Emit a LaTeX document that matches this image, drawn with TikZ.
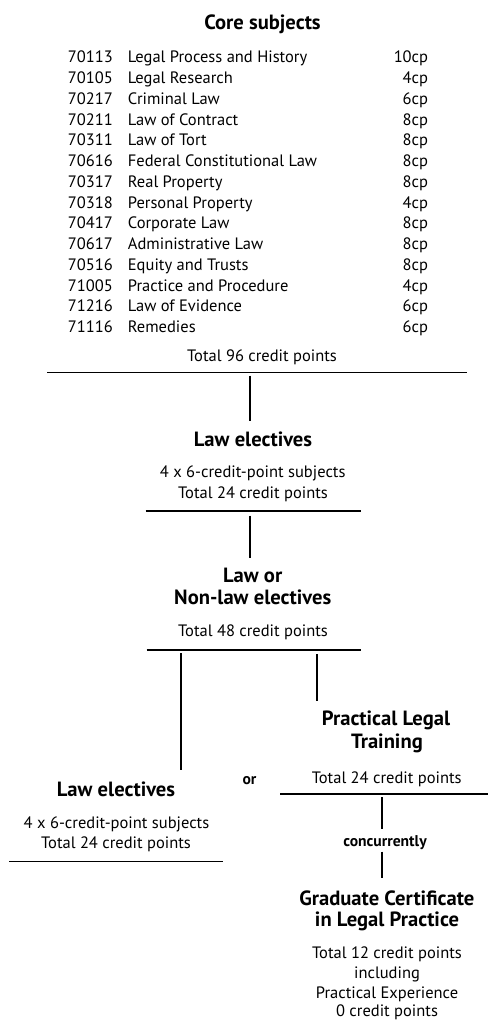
\documentclass[tikz,border=0pt]{standalone}
\usepackage{fontspec}
\setmainfont{PT Sans}
\begin{document}
\begin{tikzpicture}[x=1pt,y=-1pt,
  txt/.style={inner sep=0pt,anchor=base,font=\fontsize{16.5}{18}\selectfont},
  hd/.style={inner sep=0pt,anchor=base,font=\fontsize{20.6}{22}\selectfont\bfseries},
  small/.style={inner sep=0pt,anchor=base,font=\fontsize{15.6}{16}\selectfont\bfseries},
  code/.style={txt,anchor=base west},
  cp/.style={txt,anchor=base east},
  rule/.style={line width=1.4pt},
  link/.style={line width=1.8pt}]
\useasboundingbox (0,0) rectangle (488,1027);

% ---- core subjects ----
\node[hd] (core) at (262.5,29.3) {Core subjects};
\foreach \c/\n/\p [count=\i from 0] in {
  70113/Legal Process and History/10cp,
  70105/Legal Research/4cp,
  70217/Criminal Law/6cp,
  70211/Law of Contract/8cp,
  70311/Law of Tort/8cp,
  70616/Federal Constitutional Law/8cp,
  70317/Real Property/8cp,
  70318/Personal Property/4cp,
  70417/Corporate Law/8cp,
  70617/Administrative Law/8cp,
  70516/Equity and Trusts/8cp,
  71005/Practice and Procedure/4cp,
  71216/Law of Evidence/6cp,
  71116/Remedies/6cp}{
  \pgfmathsetmacro{\yy}{62.7+20.77*\i}
  \node[code] (c\i) at (67.7,\yy) {\c};
  \node[code] (n\i) at (127.7,\yy) {\n};
  \node[cp] (p\i) at (428.3,\yy) {\p};
}
\node[txt] (tot96) at (262,361) {Total 96 credit points};
\coordinate (r1a) at (47,372.3);
\coordinate (r1b) at (467,372.3);
\draw[rule] (r1a) -- (r1b);

% ---- law electives ----
\coordinate (v1a) at (250,375.7);
\coordinate (v1b) at (250,421);
\draw[link] (v1a) -- (v1b);
\node[hd] (le1) at (253,446) {Law electives};
\node[txt] (le1a) at (252.7,477.5) {4 x 6-credit-point subjects};
\node[txt] (le1b) at (253,498.5) {Total 24 credit points};
\coordinate (r2a) at (145.7,511);
\coordinate (r2b) at (360.7,511);
\draw[rule] (r2a) -- (r2b);

% ---- law or non-law electives ----
\coordinate (v2a) at (250,515.7);
\coordinate (v2b) at (250,557.7);
\draw[link] (v2a) -- (v2b);
\node[hd] (lo1) at (252.7,582.3) {Law or};
\node[hd] (lo2) at (252.7,604.5) {Non-law electives};
\node[txt] (lo3) at (253,636.7) {Total 48 credit points};
\coordinate (r3a) at (146.7,650);
\coordinate (r3b) at (360.7,650);
\draw[rule] (r3a) -- (r3b);

% ---- branches ----
\coordinate (vla) at (181,653.3);
\coordinate (vlb) at (181,770);
\draw[link] (vla) -- (vlb);
\coordinate (vra) at (316.7,654);
\coordinate (vrb) at (316.7,700.7);
\draw[link] (vra) -- (vrb);

% left: law electives
\node[hd] (le2) at (116,796) {Law electives};
\node[small] (or) at (249.5,784) {or};
\node[txt] (le2a) at (116.5,828.3) {4 x 6-credit-point subjects};
\node[txt] (le2b) at (116,848) {Total 24 credit points};
\coordinate (r5a) at (9.3,861.7);
\coordinate (r5b) at (222.7,861.7);
\draw[rule] (r5a) -- (r5b);

% right: practical legal training
\node[hd] (plt1) at (386,725) {Practical Legal};
\node[hd] (plt2) at (387,748.3) {Training};
\node[txt] (plt3) at (386.7,783.3) {Total 24 credit points};
\coordinate (r4a) at (280,794);
\coordinate (r4b) at (488,794);
\draw[rule] (r4a) -- (r4b);
\coordinate (v4a) at (381.7,797.3);
\coordinate (v4b) at (381.7,829.3);
\draw[link] (v4a) -- (v4b);
\node[small] (conc) at (385,846) {concurrently};
\coordinate (v5a) at (381.7,851.7);
\coordinate (v5b) at (381.7,878.3);
\draw[link] (v5a) -- (v5b);

% graduate certificate
\node[hd] (gc1) at (386.8,905) {Graduate Certificate};
\node[hd] (gc2) at (387,926) {in Legal Practice};
\node[txt] (gc3) at (387,958.3) {Total 12 credit points};
\node[txt] (gc4) at (387,978.3) {including};
\node[txt] (gc5) at (387,998.3) {Practical Experience};
\node[txt] (gc6) at (387,1016.7) {0 credit points};
\end{tikzpicture}
\end{document}
